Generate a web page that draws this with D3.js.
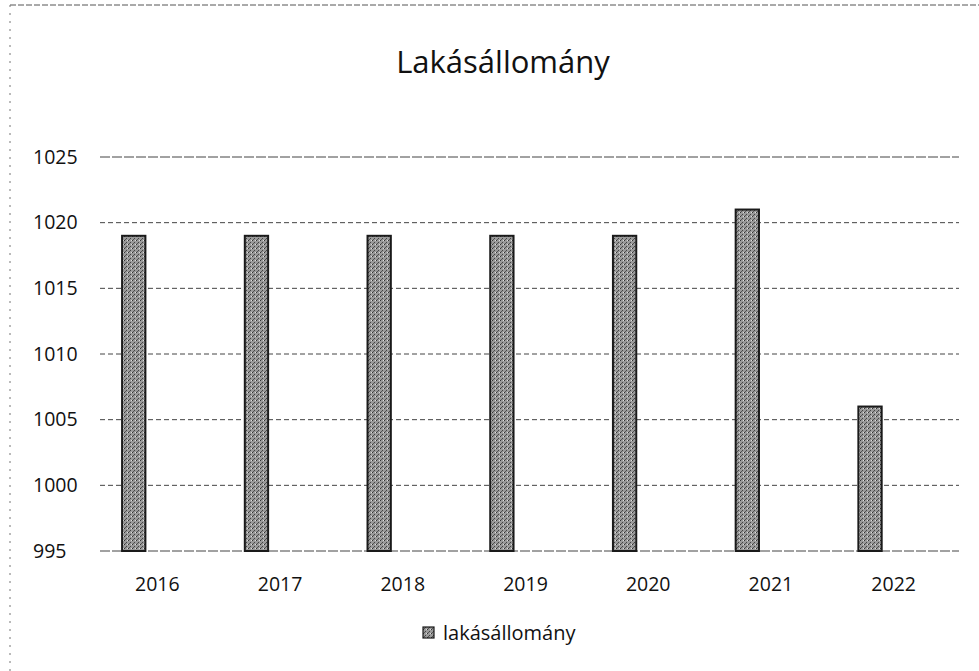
<!DOCTYPE html>
<html>
<head>
<meta charset="utf-8">
<script src="https://cdn.jsdelivr.net/npm/d3@7"></script>
<style>
  body { margin: 0; background: #fff; }
  text { font-family: "Open Sans", "DejaVu Sans", sans-serif; fill: #111; }
</style>
</head>
<body>
<div id="chart"></div>
<script>
const years = ["2016", "2017", "2018", "2019", "2020", "2021", "2022"];
const values = [1019, 1019, 1019, 1019, 1019, 1021, 1006];
const yTicks = [995, 1000, 1005, 1010, 1015, 1020, 1025];
const seriesName = "lakásállomány";
const title = "Lakásállomány";

const width = 979, height = 671;
const margin = { top: 157, right: 20, bottom: 120, left: 100 };

const svg = d3.select("#chart").append("svg")
    .attr("width", width)
    .attr("height", height);

// pattern to mimic the stippled grey fill of the scan
const defs = svg.append("defs");
const pat = defs.append("pattern")
    .attr("id", "stipple")
    .attr("width", 4).attr("height", 4)
    .attr("patternUnits", "userSpaceOnUse");
pat.append("rect").attr("width", 4).attr("height", 4).attr("fill", "#9a9a9a");
pat.append("rect").attr("x", 0).attr("y", 0).attr("width", 1).attr("height", 1).attr("fill", "#333");
pat.append("rect").attr("x", 2).attr("y", 2).attr("width", 1).attr("height", 1).attr("fill", "#444");
pat.append("rect").attr("x", 1).attr("y", 3).attr("width", 1).attr("height", 1).attr("fill", "#555");
pat.append("rect").attr("x", 3).attr("y", 0).attr("width", 1).attr("height", 1).attr("fill", "#ddd");

// chart frame (scan edges)
svg.append("line")
    .attr("x1", 10).attr("x2", width).attr("y1", 5).attr("y2", 5)
    .attr("stroke", "#555").attr("stroke-width", 1).attr("stroke-dasharray", "6 2");
svg.append("line")
    .attr("x1", 10).attr("x2", 10).attr("y1", 5).attr("y2", height)
    .attr("stroke", "#777").attr("stroke-width", 1).attr("stroke-dasharray", "2 6");

const x = d3.scaleBand()
    .domain(years)
    .range([margin.left, width - margin.right]);

const y = d3.scaleLinear()
    .domain([995, 1025])
    .range([551, 157]);

// title
svg.append("text")
    .attr("x", 503)
    .attr("y", 73)
    .attr("text-anchor", "middle")
    .attr("font-size", "31px")
    .text(title);

// gridlines
svg.append("g")
    .selectAll("line")
    .data(yTicks)
    .enter()
    .append("line")
    .attr("x1", margin.left)
    .attr("x2", width - margin.right)
    .attr("y1", d => y(d))
    .attr("y2", d => y(d))
    .attr("stroke", "#444")
    .attr("stroke-width", 1)
    .attr("stroke-dasharray", d => d === 1025 || d === 995 ? "10 2" : "5 3");

// y tick labels
svg.append("g")
    .selectAll("text")
    .data(yTicks)
    .enter()
    .append("text")
    .attr("x", 33)
    .attr("y", d => y(d))
    .attr("dy", "0.35em")
    .attr("font-size", "19.5px")
    .text(d => d);

// bars
const barOffset = x.bandwidth() * 0.18;
const barWidth = x.bandwidth() * 0.19;
svg.append("g")
    .selectAll("rect")
    .data(years.map((yr, i) => ({ year: yr, value: values[i] })))
    .enter()
    .append("rect")
    .attr("x", d => x(d.year) + barOffset)
    .attr("y", d => y(d.value))
    .attr("width", barWidth)
    .attr("height", d => y(995) - y(d.value))
    .attr("fill", "url(#stipple)")
    .attr("stroke", "#1a1a1a")
    .attr("stroke-width", 2);

// x labels
svg.append("g")
    .selectAll("text")
    .data(years)
    .enter()
    .append("text")
    .attr("x", d => x(d) + x.bandwidth() / 2 - 4)
    .attr("y", 591)
    .attr("text-anchor", "middle")
    .attr("font-size", "19.5px")
    .text(d => d);

// legend
const legend = svg.append("g").attr("transform", "translate(423,633)");
legend.append("rect")
    .attr("x", 0).attr("y", -6)
    .attr("width", 11).attr("height", 11)
    .attr("fill", "url(#stipple)")
    .attr("stroke", "#1a1a1a")
    .attr("stroke-width", 1.2);
legend.append("text")
    .attr("x", 20)
    .attr("y", 0)
    .attr("dy", "0.35em")
    .attr("font-size", "20px")
    .text(seriesName);
</script>
</body>
</html>
